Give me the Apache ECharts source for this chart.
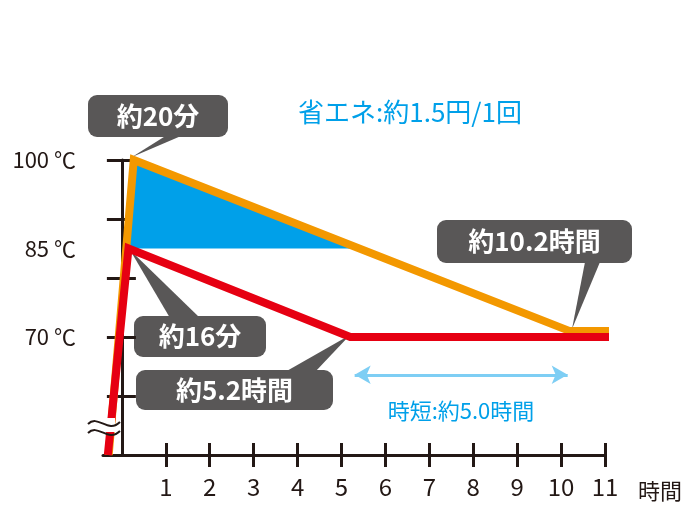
<!DOCTYPE html>
<html><head><meta charset="utf-8">
<script src="https://cdn.jsdelivr.net/npm/echarts@6/dist/echarts.min.js"></script>
<style>html,body{margin:0;padding:0;background:#fff}#c{width:686px;height:512px}</style>
</head><body><div id="c"></div>
<script>
const xTicks = [1,2,3,4,5,6,7,8,9,10,11];
const yTickValues = [60,70,80,90,100];
const yLabelValues = [70,85,100];
const orangeLine = [[-0.3,50],[0.27,100],[10.2,71],[11.3,71]];
const redLine = [[-0.32,50],[0.15,85],[5.2,70],[11.3,70]];
const savingFill = [[0.15,85],[0.27,100],[5.2,85]];
const shortenStart = 5.25, shortenEnd = 10.2, arrowY = 63.6;
const FONT = '"Noto Sans CJK JP", "Noto Sans", sans-serif';
const chart = echarts.init(document.getElementById('c'));
const gray = '#595757', lblue = '#7ecef4', blue = '#00a0e9';
const box = (x,y,w,h,text,fs)=>({type:'group',children:[
  {type:'rect',shape:{x:x,y:y,width:w,height:h,r:9},style:{fill:gray}},
  {type:'text',x:x+w/2,y:y+h/2,style:{text:text,fill:'#fff',font:'bold '+fs+'px '+FONT,align:'center',verticalAlign:'middle'}}]});
const tri = (pts)=>({type:'polygon',shape:{points:pts},style:{fill:gray}});
chart.setOption({
  animation:false,
  grid:{left:103,right:81,top:160,bottom:57},
  xAxis:[{type:'value',min:-0.43,max:11,interval:1,
    axisLine:{lineStyle:{color:'#231815',width:3}},
    axisTick:{customValues:xTicks,length:12,lineStyle:{color:'#231815',width:3}},
    axisLabel:{customValues:xTicks,color:'#231815',fontSize:24,margin:20,fontFamily:FONT},
    splitLine:{show:false}},
   {type:'value',min:-0.43,max:11,position:'bottom',axisLine:{show:false},
    axisTick:{customValues:xTicks,inside:true,length:12,lineStyle:{color:'#231815',width:3}},
    axisLabel:{show:false},splitLine:{show:false}}],
  yAxis:[{type:'value',min:50,max:100,
    axisLine:{lineStyle:{color:'#231815',width:3}},
    axisTick:{customValues:yTickValues,length:15,lineStyle:{color:'#231815',width:3}},
    axisLabel:{customValues:yLabelValues,formatter:v=>v+' ℃',color:'#231815',fontSize:22,margin:27,fontFamily:FONT},
    splitLine:{show:false}},
   {type:'value',min:50,max:100,position:'left',axisLine:{show:false},
    axisTick:{customValues:yTickValues,inside:true,length:14,lineStyle:{color:'#231815',width:3}},
    axisLabel:{show:false},splitLine:{show:false}}],
  series:[
    {type:'custom',renderItem:(p,api)=>({type:'polygon',shape:{points:savingFill.map(d=>api.coord(d))},style:{fill:blue}}),data:[0],z:1},
    {type:'line',data:[],clip:false,symbol:'none',z:2,
      markLine:{silent:true,symbol:'none',label:{show:false},data:[
        [{coord:[-0.78,85],lineStyle:{color:'#231815',type:[5,4],width:1}},{coord:[5.4,85]}],
        [{coord:[-0.78,70],lineStyle:{color:lblue,type:[6,5],width:2.5}},{coord:[5.2,70]}],
        [{coord:[shortenStart,50],lineStyle:{color:lblue,type:[6,5],width:2.5}},{coord:[shortenStart,101]}],
        [{coord:[shortenEnd,50],lineStyle:{color:lblue,type:[6,5],width:2.5}},{coord:[shortenEnd,101]}]]}},
    {type:'line',data:[],clip:false,symbol:'none',z:2,
      markLine:{silent:true,symbol:['arrow','arrow'],symbolSize:[14,16],label:{show:false},
        lineStyle:{color:lblue,type:'solid',width:3},
        data:[[{coord:[shortenStart+0.05,arrowY]},{coord:[shortenEnd-0.05,arrowY]}]]}},
    {type:'line',data:orangeLine,symbol:'none',clip:false,lineStyle:{color:'#f39800',width:8,join:'miter'},z:3},
    {type:'line',data:redLine,symbol:'none',clip:false,lineStyle:{color:'#e60012',width:8,join:'miter'},z:4}
  ],
  graphic:[
    {type:'rect',shape:{x:93,y:418,width:22,height:14},style:{fill:'#fff'},z:10},
    {type:'bezierCurve',shape:{x1:88,y1:424,x2:120,y2:422,cpx1:98,cpy1:414,cpx2:108,cpy2:434},style:{stroke:'#231815',lineWidth:2,fill:null},z:11},
    {type:'bezierCurve',shape:{x1:88,y1:433,x2:120,y2:431,cpx1:98,cpy1:423,cpx2:108,cpy2:443},style:{stroke:'#231815',lineWidth:2,fill:null},z:11},
    tri([[132,157],[175,130],[195,130]]),
    box(88,95,140,42,'約20分',26),
    tri([[572,329],[585,262],[600,262]]),
    box(437,220,195,43,'約10.2時間',26),
    tri([[130,250],[170,318],[200,318]]),
    box(134,316,132,41,'約16分',26),
    tri([[350,335],[285,372],[315,372]]),
    box(136,370,197,40,'約5.2時間',26),
    {type:'text',x:410,y:112,style:{text:'省エネ:約1.5円/1回',fill:blue,font:'26px '+FONT,align:'center',verticalAlign:'middle'}},
    {type:'text',x:461,y:411,style:{text:'時短:約5.0時間',fill:blue,font:'22px '+FONT,align:'center',verticalAlign:'middle'}},
    {type:'text',x:638,y:491,style:{text:'時間',fill:'#231815',font:'22px '+FONT,align:'left',verticalAlign:'middle'}}
  ]
});
</script></body></html>
